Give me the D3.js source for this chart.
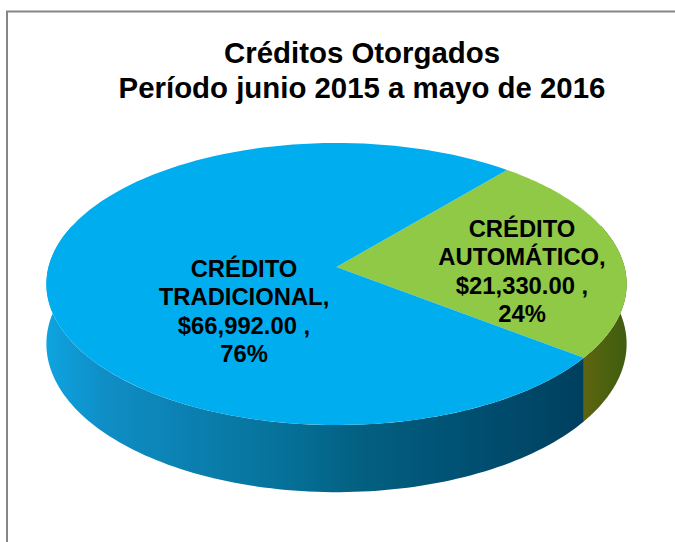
<!DOCTYPE html>
<html><head><meta charset="utf-8">
<script src="https://cdn.jsdelivr.net/npm/d3@7"></script>
<style>html,body{margin:0;padding:0;background:#fff}svg{display:block}text{font-family:"Liberation Sans",Arial,sans-serif;font-weight:bold;fill:#000}</style>
</head><body><svg id="c" width="675" height="542"></svg>
<script>
const categories = ["CRÉDITO AUTOMÁTICO", "CRÉDITO TRADICIONAL"];
const values = [21330, 66992];
const valueLabels = ["$21,330.00 ,", "$66,992.00 ,"];
const percentLabels = ["24%", "76%"];
const titleLines = ["Créditos Otorgados", "Período junio 2015 a mayo de 2016"];
const labelLines = [["CRÉDITO", "AUTOMÁTICO,"], ["CRÉDITO", "TRADICIONAL,"]];
const topColors = ["#8fc945", "#00aeef"];
const labelPos = [[522, 237], [244, 277]];

const svg = d3.select("#c");
const cx = 336.5, y0 = 267, a = 288, b = 139, k = 0.1206, depth = 59;
const proj = (ang, r, h) => {
  const X = r * Math.sin(ang), Y = -r * Math.cos(ang), w = 1 - k * Y;
  return [cx + a * X / w, y0 + (b * Y + h) / w];
};
const rad = d => d * Math.PI / 180;
const pie = d3.pie().sort(null).value(d => d).startAngle(rad(40.3)).endAngle(rad(400.3));
const arcs = pie(values);
const line = d3.line();
const steps = (s, e) => d3.range(0, 121).map(i => s + (e - s) * i / 120);

// cross-section gradients
const defs = svg.append("defs");
const grad = (id, stops) => {
  const g = defs.append("linearGradient").attr("id", id).attr("gradientUnits", "userSpaceOnUse")
    .attr("x1", 46).attr("x2", 627).attr("y1", 0).attr("y2", 0);
  stops.forEach(([o, c]) => g.append("stop").attr("offset", o).attr("stop-color", c));
};
grad("sideBlue", [[0, "#0ea4e0"], [0.04, "#0e9bd6"], [0.1, "#0f8ec6"], [0.25, "#0b80b0"], [0.4, "#06729a"], [0.55, "#035f80"], [0.75, "#004e70"], [0.93, "#003f5e"], [1, "#003f5e"]]);
grad("sideGreen", [[0.93, "#5c6410"], [0.96, "#4e620f"], [1, "#3f5c10"]]);

// side wall
const sideRange = [[rad(72), arcs[0].endAngle, "url(#sideGreen)"], [arcs[0].endAngle, rad(288), "url(#sideBlue)"]];
sideRange.forEach(([s, e, f]) => {
  const t = steps(s, e);
  svg.append("path")
    .attr("d", line(t.map(v => proj(v, 1, 0)).concat(t.slice().reverse().map(v => proj(v, 1, depth)))) + "Z")
    .attr("fill", f);
});

// top face
arcs.forEach((d, i) => {
  const pts = [proj(0, 0, 0)].concat(steps(d.startAngle, d.endAngle).map(v => proj(v, 1, 0)));
  svg.append("path").attr("d", line(pts) + "Z").attr("fill", topColors[i]);
});

// frame
svg.append("path").attr("d", d3.line()([[7, 542], [7, 11.5], [675, 11.5]]))
  .attr("fill", "none").attr("stroke", "#868686").attr("stroke-width", 2);

// title
svg.selectAll(".t").data(titleLines).enter().append("text").attr("class", "t")
  .attr("x", 362).attr("y", (d, i) => 63 + i * 35).attr("text-anchor", "middle")
  .attr("font-size", 29.4).text(d => d);

// labels
categories.forEach((c, i) => {
  const lines = labelLines[i].concat([valueLabels[i], percentLabels[i]]);
  lines.forEach((l, j) => {
    svg.append("text").attr("x", labelPos[i][0]).attr("y", labelPos[i][1] + j * 28.3)
      .attr("text-anchor", "middle").attr("font-size", 23.8).text(l);
  });
});
</script></body></html>
